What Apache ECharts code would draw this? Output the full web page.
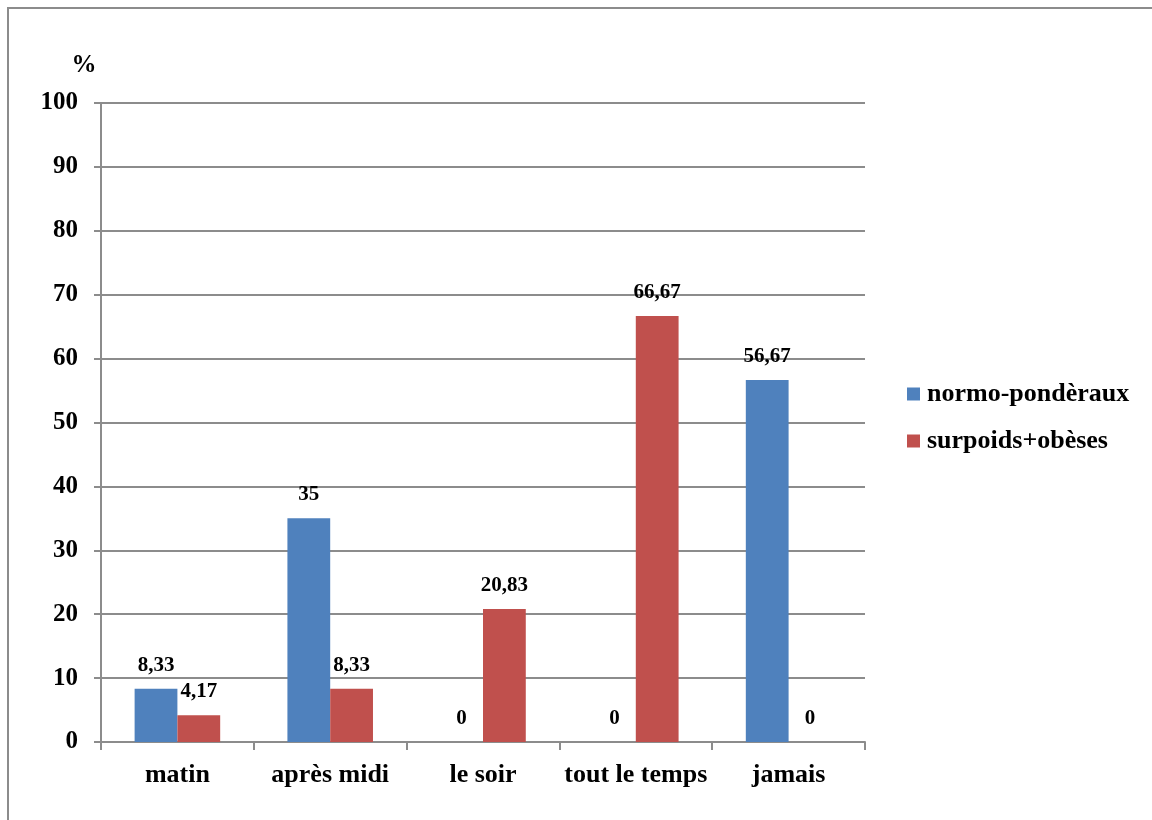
<!DOCTYPE html>
<html>
<head>
<meta charset="utf-8">
<script src="https://cdn.jsdelivr.net/npm/echarts@6/dist/echarts.min.js"></script>
<style>
  html, body { margin: 0; padding: 0; background: #fff; }
  #chart { width: 1152px; height: 820px; }
</style>
</head>
<body>
<div id="chart"></div>
<script>
// Moments of the day, share (%) per weight group
const categories = ['matin', 'après midi', 'le soir', 'tout le temps', 'jamais'];
const seriesNames = ['normo-pondèraux', 'surpoids+obèses'];
const normoValues = [8.33, 35, 0, 0, 56.67];
const surpoidsValues = [4.17, 8.33, 20.83, 66.67, 0];
const yTicks = [0, 10, 20, 30, 40, 50, 60, 70, 80, 90, 100];

const FONT = '"Liberation Serif", "Times New Roman", serif';
const GRAY = '#8c8c8c';

const chart = echarts.init(document.getElementById('chart'), null, { renderer: 'canvas' });

function valueLabel() {
  return {
    show: true,
    position: 'top',
    distance: 13,
    fontFamily: FONT,
    fontWeight: 'bold',
    fontSize: 21,
    color: '#000',
    formatter: p => String(p.value).replace('.', ',')
  };
}

chart.setOption({
  animation: false,
  backgroundColor: '#fff',
  graphic: [{
    type: 'rect',
    shape: { x: 8, y: 8, width: 1300, height: 1000 },
    style: { fill: 'none', stroke: GRAY, lineWidth: 2 },
    silent: true
  }],
  grid: { left: 101, right: 287, top: 103, bottom: 78, containLabel: false },
  legend: {
    orient: 'vertical',
    left: 907,
    top: 381,
    padding: 0,
    itemWidth: 13,
    itemHeight: 13,
    itemGap: 21,
    icon: 'rect',
    textStyle: { fontFamily: FONT, fontWeight: 'bold', fontSize: 26, color: '#000', padding: [0, 0, 0, 2] },
    data: seriesNames
  },
  xAxis: {
    type: 'category',
    data: categories,
    axisLine: { lineStyle: { color: GRAY, width: 2 } },
    axisTick: { show: true, interval: 0, length: 8, lineStyle: { color: GRAY, width: 2 } },
    axisLabel: { interval: 0, margin: 20, fontFamily: FONT, fontWeight: 'bold', fontSize: 26, color: '#000' }
  },
  yAxis: {
    type: 'value',
    min: yTicks[0],
    max: yTicks[yTicks.length - 1],
    interval: yTicks[1] - yTicks[0],
    name: '%',
    nameLocation: 'end',
    nameGap: 25,
    nameTextStyle: { fontFamily: FONT, fontWeight: 'bold', fontSize: 25, color: '#000', align: 'center', padding: [0, 34, 0, 0] },
    axisLine: { show: true, lineStyle: { color: GRAY, width: 2 } },
    axisTick: { show: true, length: 7, lineStyle: { color: GRAY, width: 2 } },
    splitLine: { show: true, lineStyle: { color: GRAY, width: 2 } },
    axisLabel: { margin: 23, fontFamily: FONT, fontWeight: 'bold', fontSize: 25, color: '#000' }
  },
  series: [
    {
      name: seriesNames[0],
      type: 'bar',
      data: normoValues,
      itemStyle: { color: '#4F81BD' },
      barGap: '0%',
      barCategoryGap: '44%',
      label: valueLabel()
    },
    {
      name: seriesNames[1],
      type: 'bar',
      data: surpoidsValues,
      itemStyle: { color: '#C0504D' },
      barGap: '0%',
      barCategoryGap: '44%',
      label: valueLabel()
    }
  ]
});
</script>
</body>
</html>
